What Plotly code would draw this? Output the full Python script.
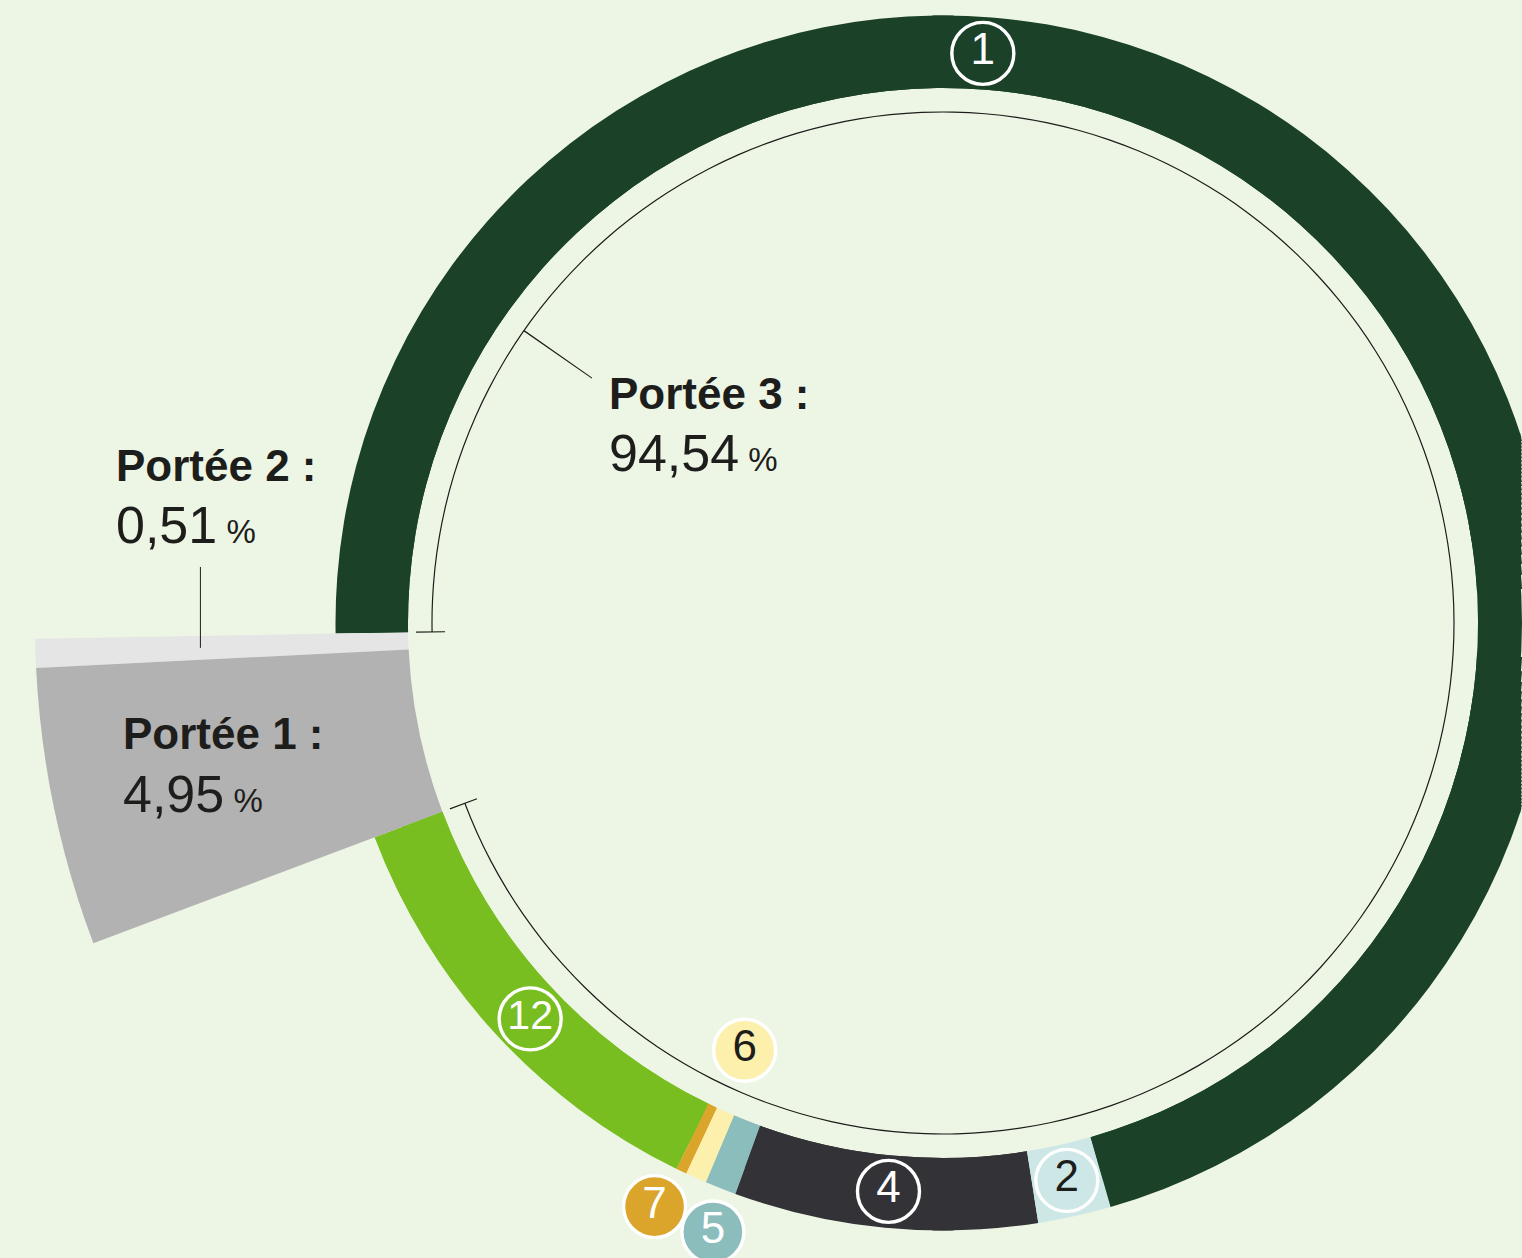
import math
import plotly.graph_objects as go

# ---------------- data ----------------
scope_names = ["Portée 3", "Portée 2", "Portée 1"]
scope_values = [94.54, 0.51, 4.95]            # % of total
scope_value_labels = ["94,54", "0,51", "4,95"]

# Portée 3 categories, in counter-clockwise order starting right after Portée 1
cat_ids = ["12", "7", "6", "5", "4", "2", "1"]
cat_values = [12.04, 0.28, 0.56, 0.83, 8.06, 1.94, 70.83]   # % of total

# ---------------- style ----------------
W, H = 1522, 1258
BG = "#edf6e4"
TXT = "#1d1d1b"
FONT = "Liberation Sans, Arial, Helvetica, sans-serif"
cat_colors = {"12": "#78be20", "7": "#dba42a", "6": "#fdefac", "5": "#8bbdbd",
              "4": "#333237", "2": "#cce7e6", "1": "#1b4229"}
cat_text_colors = {"12": "white", "7": "white", "6": TXT, "5": "white",
                   "4": "white", "2": TXT, "1": "white"}
scope_colors = {"Portée 2": "#e5e5e5", "Portée 1": "#b2b2b2"}

CX, CY = 943, 623          # centre of the ring (px)
THETA0 = 181.0             # start angle of Portée 2 (deg, counter-clockwise)
DEG = 3.6                  # degrees per percent
R_IN, R_RING, R_OUT = 535, 607.5, 908
R_BR = 511                 # bracket arc radius
R_MAIN = 579               # largest full-circle polar that fits (right edge)
R_FULL = 609               # radius of sector polars that show the whole ring

# label positions (radius, angle) for the circled numbers (others: segment middle)
label_pos = {"1": (571, 86.0), "12": (572, 223.8), "6": (471, 245.1),
             "7": (651, 243.7), "5": (651, 249.3)}


def spans(start, values):
    th, wd = [], []
    a = start
    for v in values:
        w = v * DEG
        th.append(a + w / 2)
        wd.append(w)
        a += w
    return th, wd, a


vals = dict(zip(scope_names, scope_values))
p2_w = vals["Portée 2"] * DEG
p1_w = vals["Portée 1"] * DEG
p3_w = vals["Portée 3"] * DEG
p2_mid = THETA0 + p2_w / 2
p1_mid = THETA0 + p2_w + p1_w / 2
p3_start = THETA0 + p2_w + p1_w
p3_mid = p3_start + p3_w / 2
cat_theta, cat_width, p3_end = spans(p3_start, cat_values)
mid_of = dict(zip(cat_ids, cat_theta))


# ---------------- polar subplot geometry ----------------
def sector_bbox(s0, s1):
    arc = s1 - s0
    a0 = s0 % 360
    a1 = a0 + arc
    c = lambda a: math.cos(math.radians(a))
    s = lambda a: math.sin(math.radians(a))
    ax0, ay0, ax1, ay1 = c(a0), s(a0), c(a1), s(a1)
    if (a0 <= 90 and a1 >= 90) or (a0 > 90 and a1 >= 450):
        y1 = 1
    elif ay0 <= 0 and ay1 <= 0:
        y1 = 0
    else:
        y1 = max(ay0, ay1)
    if (a0 <= 180 and a1 >= 180) or (a0 > 180 and a1 >= 540):
        x0 = -1
    elif ax0 >= 0 and ax1 >= 0:
        x0 = 0
    else:
        x0 = min(ax0, ax1)
    if (a0 <= 270 and a1 >= 270) or (a0 > 270 and a1 >= 630):
        y0 = -1
    elif ay0 >= 0 and ay1 >= 0:
        y0 = 0
    else:
        y0 = min(ay0, ay1)
    if a1 >= 360:
        x1 = 1
    elif ax0 <= 0 and ax1 <= 0:
        x1 = 0
    else:
        x1 = max(ax0, ax1)
    return x0, y0, x1, y1


hidden = dict(visible=False, showgrid=False, showline=False, showticklabels=False, ticks="")
polars = []


def add_polar(R, sector=None):
    if sector is None:
        x0, y0, x1, y1 = -1, -1, 1, 1
    else:
        x0, y0, x1, y1 = sector_bbox(*sector)
    dx = [max(0.0, (CX + R * x0) / W), min(1.0, (CX + R * x1) / W)]
    dy = [max(0.0, (H - (CY - R * y0)) / H), min(1.0, (H - (CY - R * y1)) / H)]
    d = dict(domain=dict(x=dx, y=dy), bgcolor="rgba(0,0,0,0)", hole=0,
             radialaxis=dict(range=[0, R], **hidden),
             angularaxis=dict(direction="counterclockwise", rotation=0, **hidden))
    if sector is not None:
        d["sector"] = list(sector)
    polars.append(d)
    k = len(polars)
    return "polar" if k == 1 else "polar%d" % k


fig = go.Figure()


def ring(subplot):
    n = len(cat_ids)
    fig.add_trace(go.Barpolar(
        theta=cat_theta, width=cat_width, base=[R_IN] * n, r=[R_RING - R_IN] * n,
        marker=dict(color=[cat_colors[c] for c in cat_ids], line=dict(width=0)),
        subplot=subplot, hoverinfo="skip", showlegend=False))


# ring pieces: left half, upper right, lower right (full thickness)
theta_full = math.degrees(math.acos(R_MAIN / R_FULL))
ring(add_polar(620, (89, 271)))
ring(add_polar(R_FULL, (theta_full, 91)))
ring(add_polar(R_FULL, (269, 360 - theta_full)))
# thin sectors near the right edge, where the ring runs off the figure
GAP = 1.0
t = math.degrees(math.acos(1 / (1 + GAP / R_MAIN)))
while t < theta_full - 1e-6:
    nxt = math.degrees(math.acos(1 / (1 / math.cos(math.radians(t)) + GAP / R_MAIN)))
    nxt = min(nxt, theta_full)
    Rk = R_MAIN / math.cos(math.radians(t))
    ring(add_polar(Rk, (t, min(nxt + 0.2, 90))))
    ring(add_polar(Rk, (max(360 - nxt - 0.2, 270), 360 - t)))
    t = nxt

# Portée 1 & 2 wedges
sp_wedge = add_polar(910, (180, 201))
fig.add_trace(go.Barpolar(
    theta=[p2_mid, p1_mid], width=[p2_w, p1_w], base=[R_IN, R_IN],
    r=[R_OUT - R_IN, R_OUT - R_IN],
    marker=dict(color=[scope_colors["Portée 2"], scope_colors["Portée 1"]], line=dict(width=0)),
    subplot=sp_wedge, hoverinfo="skip", showlegend=False))

# main full-circle polar: ring core, bracket, leader, circled numbers
sp_main = add_polar(R_MAIN)
ring(sp_main)
fig.add_trace(go.Barpolar(
    theta=[p3_mid], width=[p3_w], base=[R_BR - 0.6], r=[1.2],
    marker=dict(color=TXT, line=dict(width=0)),
    subplot=sp_main, hoverinfo="skip", showlegend=False))
fig.add_trace(go.Barpolar(
    theta=[p3_start, p3_end], width=[0.13, 0.13], base=[498, 498], r=[29, 29],
    marker=dict(color=TXT, line=dict(width=0)),
    subplot=sp_main, hoverinfo="skip", showlegend=False))
fig.add_trace(go.Barpolar(
    theta=[145.1], width=[0.14], base=[428], r=[R_BR - 428],
    marker=dict(color=TXT, line=dict(width=0)),
    subplot=sp_main, hoverinfo="skip", showlegend=False))


def circled(ids, subplot):
    rr, tt = [], []
    for c in ids:
        r, a = label_pos.get(c, (571, mid_of[c]))
        rr.append(r)
        tt.append(a)
    return go.Scatterpolar(
        r=rr, theta=tt, mode="markers+text", text=ids, textposition="middle center",
        marker=dict(size=62, color=[cat_colors[c] for c in ids],
                    line=dict(color="white", width=3.4)),
        textfont=dict(family=FONT, size=[41 if len(c) > 1 else 44 for c in ids],
                      color=[cat_text_colors[c] for c in ids]),
        cliponaxis=False, subplot=subplot, hoverinfo="skip", showlegend=False)


fig.add_trace(circled(["1", "2", "4", "12", "6"], sp_main))
sp_out = add_polar(656, (235, 255))
fig.add_trace(circled(["7", "5"], sp_out))

# ---------------- labels ----------------
ann = []
label_layout = {            # left x, title baseline, value baseline (px)
    "Portée 3": (607, 409, 471),
    "Portée 2": (114, 481, 543),
    "Portée 1": (121, 749, 812),
}
T_SIZE, V_SIZE, P_SIZE = 44, 52, 33
for name, lab in zip(scope_names, scope_value_labels):
    x, b1, b2 = label_layout[name]
    ann.append(dict(text="<b>%s :</b>" % name, x=x / W, y=(H - (b1 - 0.3465 * T_SIZE)) / H,
                    xref="paper", yref="paper", xanchor="left", yanchor="middle",
                    showarrow=False, font=dict(family=FONT, size=T_SIZE, color=TXT)))
    ann.append(dict(text='%s<span style="font-size:%dpx"> %%</span>' % (lab, P_SIZE),
                    x=x / W, y=(H - (b2 - 0.3465 * V_SIZE)) / H,
                    xref="paper", yref="paper", xanchor="left", yanchor="middle",
                    showarrow=False, font=dict(family=FONT, size=V_SIZE, color=TXT)))

# leader line for Portée 2 (from the wedge middle up to the label)
lx = CX + 743 * math.cos(math.radians(p2_mid))
ly = CY - 743 * math.sin(math.radians(p2_mid))
shapes = [dict(type="line", xref="paper", yref="paper",
               x0=lx / W, x1=lx / W, y0=(H - ly) / H, y1=(H - 567) / H,
               line=dict(color=TXT, width=1))]

layout = dict(
    width=W, height=H, margin=dict(l=0, r=0, t=0, b=0, pad=0),
    paper_bgcolor=BG, plot_bgcolor=BG, showlegend=False,
    annotations=ann, shapes=shapes,
)
for i, p in enumerate(polars):
    layout["polar" if i == 0 else "polar%d" % (i + 1)] = p
fig.update_layout(**layout)

fig.write_html("out.html", config={"displayModeBar": False},
               post_script="document.body.style.margin='0';")
